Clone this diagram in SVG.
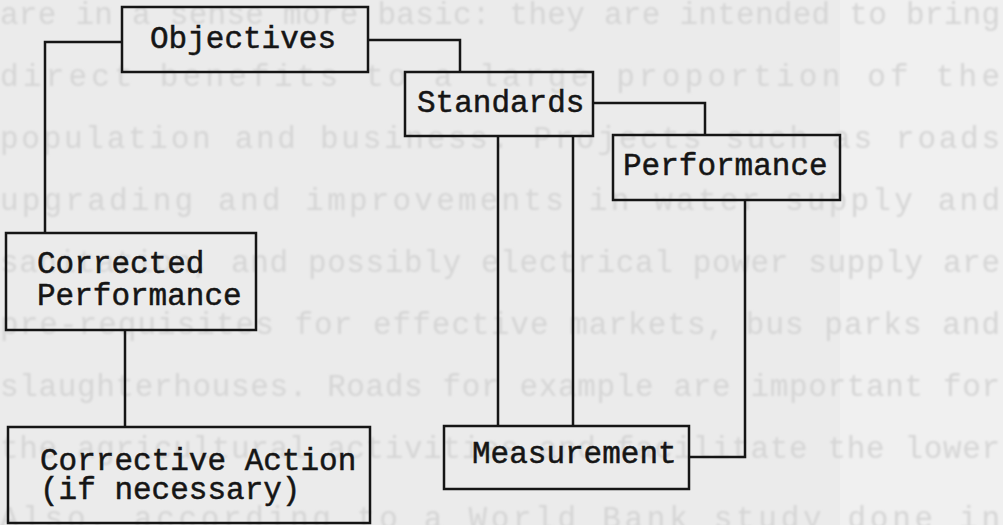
<svg xmlns="http://www.w3.org/2000/svg" width="1003" height="525" viewBox="0 0 1003 525">
<style>
.bg{font-family:"Liberation Mono","Courier New",monospace;font-size:31px;fill:#d5d5d5}
.box{fill:none;stroke:#151515;stroke-width:2.5}
.lbl{font-family:"Liberation Mono","Courier New",monospace;font-size:31px;fill:#151515;stroke:#151515;stroke-width:0.5}
.con{fill:none;stroke:#151515;stroke-width:2.5}
</style>
<defs><filter id="blur" x="-5%" y="-50%" width="110%" height="200%"><feGaussianBlur stdDeviation="1.3"/></filter></defs>
<rect x="0" y="0" width="1003" height="525" fill="#ebebeb"/>
<rect x="840" y="0" width="163" height="525" fill="#f0f0f0"/>
<g id="page-text" filter="url(#blur)">
<text class="bg" x="0" y="24" textLength="1000" lengthAdjust="spacing">are in a sense more basic: they are intended to bring</text>
<text class="bg" x="0" y="86" textLength="1000" lengthAdjust="spacing">direct  benefits  to  a  large  proportion  of  the</text>
<text class="bg" x="0" y="148" textLength="1000" lengthAdjust="spacing">population and business.  Projects such as roads</text>
<text class="bg" x="0" y="210" textLength="1000" lengthAdjust="spacing">upgrading  and  improvements  in  water  supply  and</text>
<text class="bg" x="0" y="272" textLength="1000" lengthAdjust="spacing">sanitation, and possibly electrical power supply are</text>
<text class="bg" x="0" y="334" textLength="1000" lengthAdjust="spacing">pre-requisites for effective markets, bus parks and</text>
<text class="bg" x="0" y="396" textLength="1000" lengthAdjust="spacing">slaughterhouses.  Roads for example are important for</text>
<text class="bg" x="0" y="458" textLength="1000" lengthAdjust="spacing">the agricultural activities and facilitate the lower</text>
<text class="bg" x="0" y="528" textLength="1000" lengthAdjust="spacing">Also, according to a World Bank study done in</text>
</g>
<g id="connectors">
<path class="con" d="M122,42 H45 V233"/>
<path class="con" d="M368,40 H460 V72"/>
<path class="con" d="M593,103 H705 V135"/>
<path class="con" d="M498,136 V426"/>
<path class="con" d="M573,136 V426"/>
<path class="con" d="M745,200 V457 H689"/>
<path class="con" d="M125,330 V427"/>
</g>
<g id="objectives">
<rect class="box" x="122" y="7" width="246" height="65"/>
<text class="lbl" x="150" y="48">Objectives</text>
</g>
<g id="standards">
<rect class="box" x="405" y="72" width="188" height="64"/>
<text class="lbl" x="417" y="112">Standards</text>
</g>
<g id="performance">
<rect class="box" x="613" y="135" width="227" height="65"/>
<text class="lbl" x="623" y="175">Performance</text>
</g>
<g id="corrected-performance">
<rect class="box" x="6" y="233" width="250" height="97"/>
<text class="lbl" x="37" y="273">Corrected</text>
<text class="lbl" x="37" y="305">Performance</text>
</g>
<g id="corrective-action">
<rect class="box" x="8" y="427" width="362" height="96"/>
<text class="lbl" x="40" y="470">Corrective Action</text>
<text class="lbl" x="40" y="499">(if necessary)</text>
</g>
<g id="measurement">
<rect class="box" x="444" y="426" width="245" height="63"/>
<text class="lbl" x="472" y="463">Measurement</text>
</g>
</svg>
